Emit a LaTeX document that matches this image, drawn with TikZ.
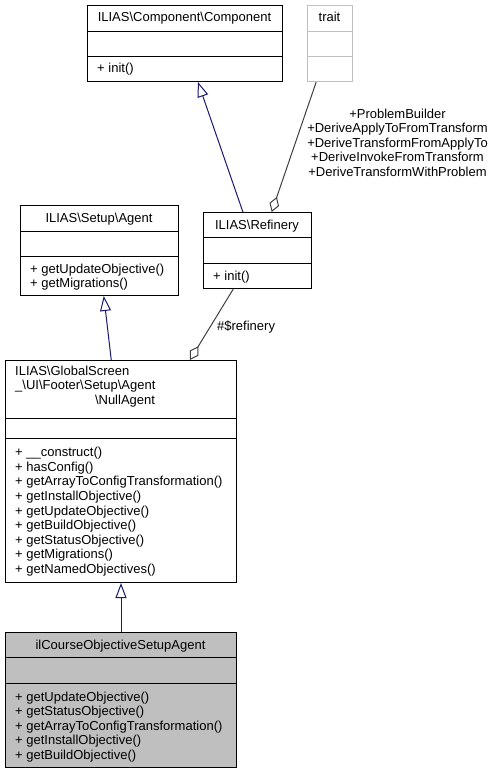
\documentclass[tikz,border=0pt]{standalone}
\usepackage{fontspec}
\setmainfont{Liberation Sans}
\usetikzlibrary{arrows.meta,calc}
\definecolor{edgeblue}{HTML}{191970}
\definecolor{edgegray}{HTML}{404040}
\definecolor{boxgray}{HTML}{BFBFBF}
\newcommand{\bs}{\textbackslash}
\begin{document}
\begin{tikzpicture}[x=1pt,y=-1pt,
  umlbox/.style={draw=black, line width=1pt, rectangle, inner sep=0pt, anchor=north west},
  lbl/.style={inner sep=0pt, font=\fontsize{13}{14.6}\selectfont, text=black},
  inh/.style={draw=edgeblue, line width=1pt, -{Triangle[open, length=15pt, width=11pt, line width=1pt]}},
  comp/.style={draw=edgegray, line width=1pt, -{Diamond[open, length=16pt, width=10pt, line width=1pt]}}
]
\useasboundingbox (0,0) rectangle (495,773);
\fill[white] (0,0) rectangle (495,773);

% ILIAS\Component\Component
\node[umlbox, minimum width=195pt, minimum height=76pt] (component) at (87,5) {};
\draw[line width=1pt] (87,31.5) -- (282,31.5) (87,57) -- (282,57);
\node[lbl, anchor=base] (componentT) at (184.5,22) {ILIAS\bs Component\bs Component};
\node[lbl, anchor=base west] (componentM) at (97,73) {+ init()};

% trait
\node[umlbox, draw=boxgray, minimum width=45pt, minimum height=76pt] (trait) at (307,5) {};
\draw[boxgray, line width=1pt] (307,31.5) -- (352,31.5) (307,57) -- (352,57);
\node[lbl, anchor=base] (traitT) at (329.5,22) {trait};

% ILIAS\Setup\Agent
\node[umlbox, minimum width=158pt, minimum height=90pt] (agent) at (20,205) {};
\draw[line width=1pt] (20,231) -- (178,231) (20,256) -- (178,256);
\node[lbl, anchor=base] (agentT) at (99,222) {ILIAS\bs Setup\bs Agent};
\node[lbl, anchor=base west] (agentM1) at (30,273) {+ getUpdateObjective()};
\node[lbl, anchor=base west] (agentM2) at (30,287.5) {+ getMigrations()};

% ILIAS\Refinery
\node[umlbox, minimum width=108pt, minimum height=76pt] (refinery) at (203,212) {};
\draw[line width=1pt] (203,237.5) -- (311,237.5) (203,263) -- (311,263);
\node[lbl, anchor=base] (refineryT) at (257,229) {ILIAS\bs Refinery};
\node[lbl, anchor=base west] (refineryM) at (213,280) {+ init()};

% NullAgent
\node[umlbox, minimum width=231pt, minimum height=222pt] (nullagent) at (5,360) {};
\draw[line width=1pt] (5,418) -- (236,418) (5,438) -- (236,438);
\node[lbl, anchor=base west] (nullT1) at (15,375) {ILIAS\bs GlobalScreen};
\node[lbl, anchor=base west] (nullT2) at (15,389.6) {\_\bs UI\bs Footer\bs Setup\bs Agent};
\node[lbl, anchor=base] (nullT3) at (125,404.2) {\bs NullAgent};
\node[lbl, anchor=base west, align=left] (nullM) at (15,573.5) {+ \_\_construct()\\
+ hasConfig()\\
+ getArrayToConfigTransformation()\\
+ getInstallObjective()\\
+ getUpdateObjective()\\
+ getBuildObjective()\\
+ getStatusObjective()\\
+ getMigrations()\\
+ getNamedObjectives()};

% ilCourseObjectiveSetupAgent
\node[umlbox, fill=boxgray, minimum width=231pt, minimum height=135pt] (course) at (5,632) {};
\draw[line width=1pt] (5,657) -- (236,657) (5,683) -- (236,683);
\node[lbl, anchor=base] (courseT) at (120.5,649) {ilCourseObjectiveSetupAgent};
\node[lbl, anchor=base west, align=left] (courseM) at (15,759.5) {+ getUpdateObjective()\\
+ getStatusObjective()\\
+ getArrayToConfigTransformation()\\
+ getInstallObjective()\\
+ getBuildObjective()};

% connectors
\draw[inh] ($(refinery.north west)!0.366!(refinery.north east)$) -- ($(component.south west)!0.566!(component.south east)$);
\draw[comp] ($(trait.south west)!0.2!(trait.south east)$) -- ($(refinery.north west)!0.63!(refinery.north east)$);
\draw[inh] ($(nullagent.north west)!0.458!(nullagent.north east)$) -- ($(agent.south west)!0.527!(agent.south east)$);
\draw[comp] ($(refinery.south west)!0.278!(refinery.south east)$) -- ($(nullagent.north west)!0.797!(nullagent.north east)$);
\draw[inh] (course.north) -- (nullagent.south);

% labels
\node[lbl, align=center, anchor=base] (traitL) at (397.5,176.5) {+ProblemBuilder\\
+DeriveApplyToFromTransform\\
+DeriveTransformFromApplyTo\\
+DeriveInvokeFromTransform\\
+DeriveTransformWithProblem};
\node[lbl, anchor=base west] (refL) at (217,330.5) {\#\$refinery};
\end{tikzpicture}
\end{document}
